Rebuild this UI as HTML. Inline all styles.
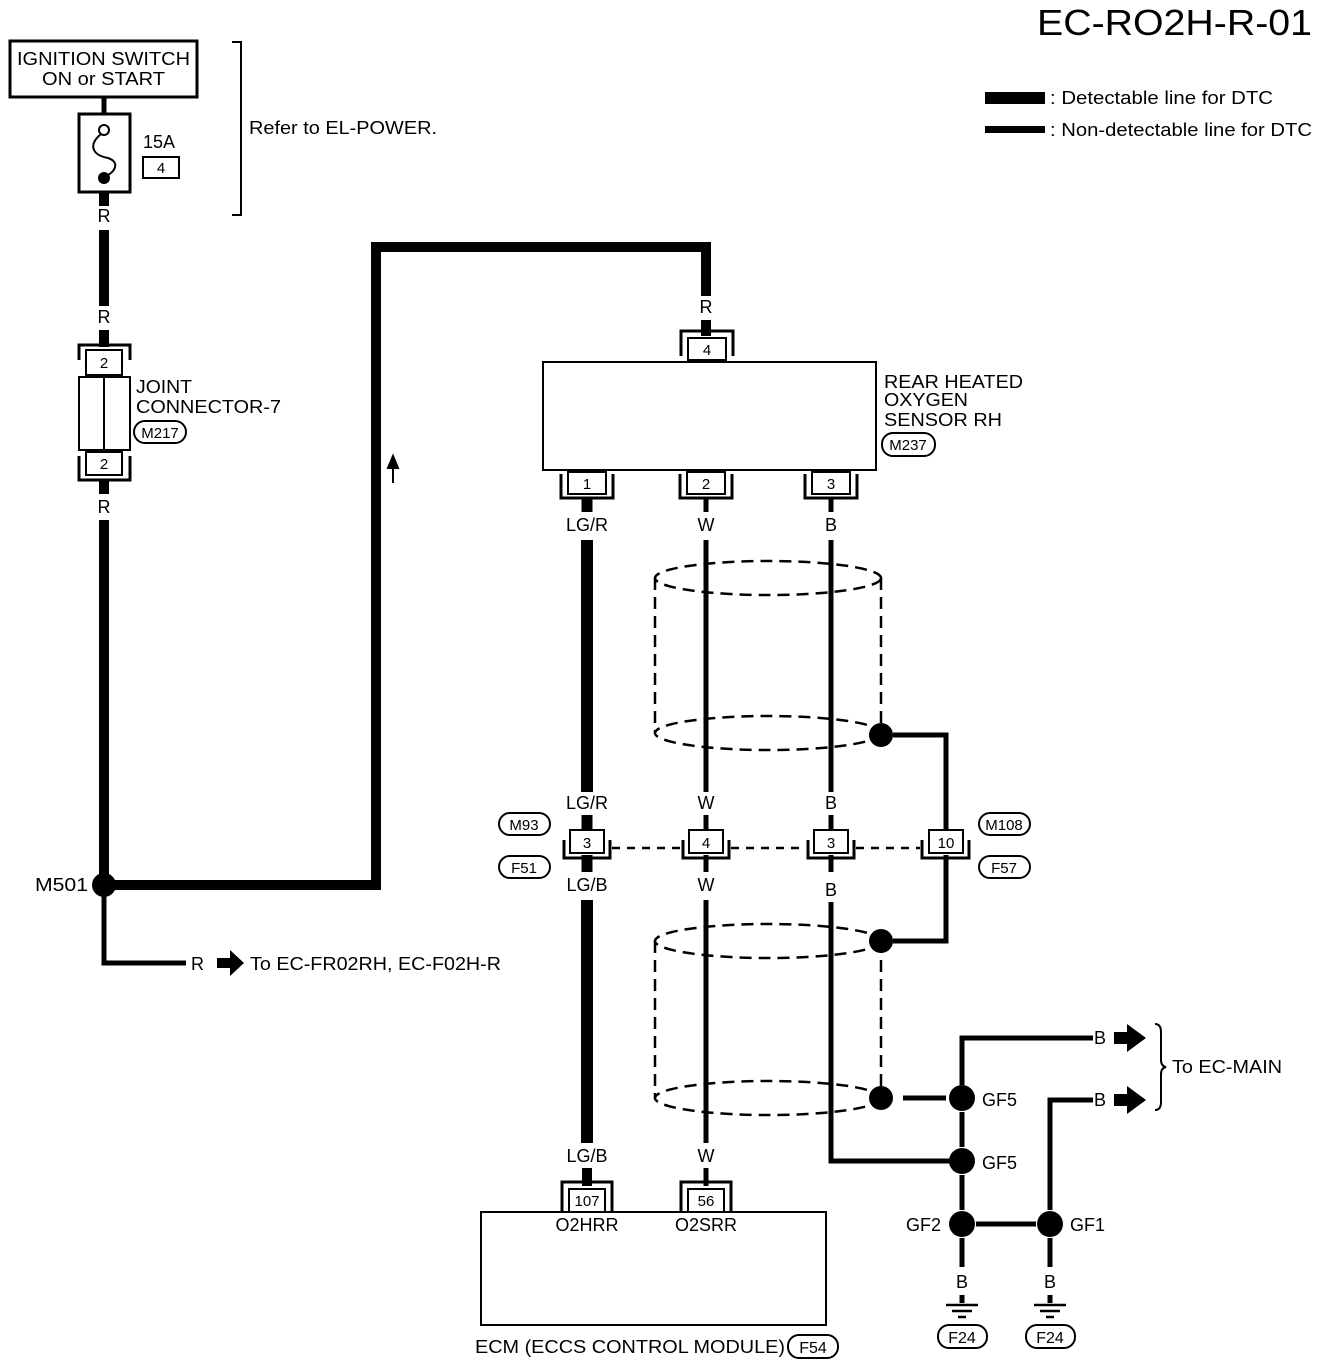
<!DOCTYPE html>
<html><head><meta charset="utf-8"><style>
html,body{margin:0;padding:0;background:#fff;}
svg{display:block;}
text{font-family:"Liberation Sans",Arial,sans-serif;font-size:18px;fill:#000;}
.c{text-anchor:middle;}
</style></head><body>
<svg width="1328" height="1366" viewBox="0 0 1328 1366" xmlns="http://www.w3.org/2000/svg">
<text x="1037" y="35" style="font-size:36px" textLength="275" lengthAdjust="spacingAndGlyphs">EC-RO2H-R-01</text>
<rect x="985" y="92" width="60" height="12" fill="#000"/>
<text x="1050" y="104" textLength="223" lengthAdjust="spacingAndGlyphs">: Detectable line for DTC</text>
<rect x="985" y="126" width="60" height="7" fill="#000"/>
<text x="1050" y="136" textLength="262" lengthAdjust="spacingAndGlyphs">: Non-detectable line for DTC</text>

<!-- ignition -->
<rect x="10" y="41" width="187" height="56" fill="none" stroke="#000" stroke-width="3"/>
<text x="17" y="65" textLength="173" lengthAdjust="spacingAndGlyphs">IGNITION SWITCH</text>
<text x="42" y="85" textLength="123" lengthAdjust="spacingAndGlyphs">ON or START</text>
<line x1="104" y1="97" x2="104" y2="114" stroke="#000" stroke-width="5"/>
<rect x="79" y="114" width="51" height="78" fill="none" stroke="#000" stroke-width="3"/>
<circle cx="104" cy="130" r="5" fill="#fff" stroke="#000" stroke-width="2"/>
<path d="M101 134 C88 145,92 155,108 158 C120 162,116 172,104 177" fill="none" stroke="#000" stroke-width="2"/>
<circle cx="104" cy="178" r="6" fill="#000"/>
<text x="143" y="148">15A</text>
<rect x="143" y="157" width="36" height="21" fill="none" stroke="#000" stroke-width="2"/>
<text class="c" x="161" y="173" style="font-size:15px">4</text>
<path d="M232 42 H241 V215 H232" fill="none" stroke="#000" stroke-width="2"/>
<text x="249" y="134" textLength="188" lengthAdjust="spacingAndGlyphs">Refer to EL-POWER.</text>

<g stroke="#000" stroke-width="10" fill="none">
<line x1="104" y1="192" x2="104" y2="206"/>
<line x1="104" y1="230" x2="104" y2="306"/>
<line x1="104" y1="330" x2="104" y2="347"/>
<line x1="104" y1="480" x2="104" y2="494"/>
<line x1="104" y1="520" x2="104" y2="885"/>
<path d="M104 885 H376 V247 H706 V296"/>
<line x1="706" y1="320" x2="706" y2="336"/>
</g>
<text class="c" x="104" y="222">R</text>
<text class="c" x="104" y="323">R</text>
<text class="c" x="104" y="513">R</text>
<!-- joint connector -->
<path d="M79 360 V345 H130 V360" fill="none" stroke="#000" stroke-width="3"/>
<rect x="86" y="350" width="36" height="25" fill="#fff" stroke="#000" stroke-width="2"/>
<text class="c" x="104" y="368" style="font-size:15px">2</text>
<rect x="79" y="377" width="51" height="73" fill="none" stroke="#000" stroke-width="2"/>
<line x1="104" y1="377" x2="104" y2="450" stroke="#000" stroke-width="2"/>
<path d="M79 456 V480 H130 V456" fill="none" stroke="#000" stroke-width="3"/>
<rect x="86" y="452" width="36" height="23" fill="#fff" stroke="#000" stroke-width="2"/>
<text class="c" x="104" y="469" style="font-size:15px">2</text>
<text x="136" y="393" textLength="56" lengthAdjust="spacingAndGlyphs">JOINT</text>
<text x="136" y="413" textLength="145" lengthAdjust="spacingAndGlyphs">CONNECTOR-7</text>
<rect x="134" y="421" width="52" height="22" rx="11" fill="none" stroke="#000" stroke-width="2"/>
<text class="c" x="160" y="438" style="font-size:15px">M217</text>
<path d="M393 483 V462 M388 468 L393 456 L398 468 Z" stroke="#000" stroke-width="2" fill="#000"/>

<!-- M501 -->
<circle cx="104" cy="885" r="12" fill="#000"/>
<text x="35" y="891" textLength="53" lengthAdjust="spacingAndGlyphs">M501</text>
<path d="M104 895 V963 H186" fill="none" stroke="#000" stroke-width="5"/>
<text x="191" y="970">R</text>
<path d="M217 958 H230 V950 L244 963 L230 976 V968 H217 Z" fill="#000"/>
<text x="250" y="970" textLength="251" lengthAdjust="spacingAndGlyphs">To EC-FR02RH, EC-F02H-R</text>

<!-- sensor -->
<text class="c" x="706" y="313">R</text>
<path d="M681 356 V331 H733 V356" fill="none" stroke="#000" stroke-width="3"/>
<rect x="688" y="338" width="38" height="22" fill="#fff" stroke="#000" stroke-width="2"/>
<text class="c" x="707" y="355" style="font-size:15px">4</text>
<rect x="543" y="362" width="333" height="108" fill="#fff" stroke="#000" stroke-width="2"/>
<text x="884" y="388" textLength="139" lengthAdjust="spacingAndGlyphs">REAR HEATED</text>
<text x="884" y="406" textLength="84" lengthAdjust="spacingAndGlyphs">OXYGEN</text>
<text x="884" y="426" textLength="118" lengthAdjust="spacingAndGlyphs">SENSOR RH</text>
<rect x="882" y="433" width="53" height="23" rx="11" fill="none" stroke="#000" stroke-width="2"/>
<text class="c" x="908" y="450" style="font-size:15px">M237</text>
<g stroke="#000" fill="none">
<path d="M561 474 V498 H613 V474" stroke-width="3"/>
<path d="M680 474 V498 H732 V474" stroke-width="3"/>
<path d="M805 474 V498 H857 V474" stroke-width="3"/>
</g>
<g fill="#fff" stroke="#000" stroke-width="2">
<rect x="568" y="472" width="38" height="22"/>
<rect x="687" y="472" width="38" height="22"/>
<rect x="812" y="472" width="38" height="22"/>
</g>
<text class="c" x="587" y="489" style="font-size:15px">1</text>
<text class="c" x="706" y="489" style="font-size:15px">2</text>
<text class="c" x="831" y="489" style="font-size:15px">3</text>
<text class="c" x="587" y="531">LG/R</text>
<text class="c" x="706" y="531">W</text>
<text class="c" x="831" y="531">B</text>

<g stroke="#000" fill="none">
<line x1="587" y1="498" x2="587" y2="512" stroke-width="11"/>
<line x1="587" y1="540" x2="587" y2="792" stroke-width="12"/>
<line x1="706" y1="498" x2="706" y2="512" stroke-width="5"/>
<line x1="706" y1="540" x2="706" y2="792" stroke-width="5"/>
<line x1="831" y1="498" x2="831" y2="512" stroke-width="5"/>
<line x1="831" y1="540" x2="831" y2="792" stroke-width="5"/>
<line x1="587" y1="815" x2="587" y2="830" stroke-width="11"/>
<line x1="706" y1="815" x2="706" y2="830" stroke-width="5"/>
<line x1="831" y1="815" x2="831" y2="830" stroke-width="5"/>
<line x1="587" y1="855" x2="587" y2="872" stroke-width="11"/>
<line x1="706" y1="855" x2="706" y2="872" stroke-width="5"/>
<line x1="831" y1="855" x2="831" y2="872" stroke-width="5"/>
<line x1="587" y1="900" x2="587" y2="1143" stroke-width="12"/>
<line x1="706" y1="900" x2="706" y2="1143" stroke-width="5"/>
<path d="M831 902 V1161 H962" stroke-width="5"/>
<path d="M893 735 H946 V830 M946 855 V941 H893" stroke-width="5"/>
<g stroke-width="2.5" stroke-dasharray="12,7">
<ellipse cx="768" cy="578" rx="113" ry="17"/>
<line x1="655" y1="578" x2="655" y2="733"/>
<line x1="881" y1="578" x2="881" y2="733"/>
<ellipse cx="768" cy="733" rx="113" ry="17"/>
<ellipse cx="768" cy="941" rx="113" ry="17"/>
<line x1="655" y1="941" x2="655" y2="1098"/>
<line x1="881" y1="941" x2="881" y2="1098"/>
<ellipse cx="768" cy="1098" rx="113" ry="17"/>
</g>
<path d="M612 848 H682 M731 848 H806 M856 848 H920" stroke-width="2.5" stroke-dasharray="8,7"/>
</g>
<circle cx="881" cy="735" r="12" fill="#000"/>
<circle cx="881" cy="941" r="12" fill="#000"/>
<circle cx="881" cy="1098" r="12" fill="#000"/>

<text class="c" x="587" y="809">LG/R</text>
<text class="c" x="706" y="809">W</text>
<text class="c" x="831" y="809">B</text>
<text class="c" x="587" y="891">LG/B</text>
<text class="c" x="706" y="891">W</text>
<text class="c" x="831" y="896">B</text>
<g stroke="#000" fill="none" stroke-width="3">
<path d="M564 840 V858 H610 V840"/>
<path d="M683 840 V858 H729 V840"/>
<path d="M808 840 V858 H854 V840"/>
<path d="M922 840 V858 H969 V840"/>
</g>
<g fill="#fff" stroke="#000" stroke-width="2">
<rect x="570" y="830" width="34" height="23"/>
<rect x="689" y="830" width="34" height="23"/>
<rect x="814" y="830" width="34" height="23"/>
<rect x="929" y="830" width="34" height="23"/>
</g>
<text class="c" x="587" y="848" style="font-size:15px">3</text>
<text class="c" x="706" y="848" style="font-size:15px">4</text>
<text class="c" x="831" y="848" style="font-size:15px">3</text>
<text class="c" x="946" y="848" style="font-size:15px">10</text>
<g fill="none" stroke="#000" stroke-width="2">
<rect x="499" y="813" width="51" height="22" rx="11"/>
<rect x="499" y="856" width="51" height="22" rx="11"/>
<rect x="979" y="813" width="51" height="22" rx="11"/>
<rect x="979" y="856" width="51" height="22" rx="11"/>
</g>
<text class="c" x="524" y="830" style="font-size:15px">M93</text>
<text class="c" x="524" y="873" style="font-size:15px">F51</text>
<text class="c" x="1004" y="830" style="font-size:15px">M108</text>
<text class="c" x="1004" y="873" style="font-size:15px">F57</text>

<!-- grounds -->
<g stroke="#000" fill="none" stroke-width="5">
<line x1="903" y1="1098" x2="946" y2="1098"/>
<path d="M962 1085 V1038 H1093"/>
<path d="M1050 1210 V1100 H1093"/>
<line x1="962" y1="1112" x2="962" y2="1147"/>
<line x1="962" y1="1175" x2="962" y2="1210"/>
<line x1="976" y1="1224" x2="1036" y2="1224"/>
<line x1="962" y1="1238" x2="962" y2="1267"/>
<line x1="1050" y1="1238" x2="1050" y2="1267"/>
<line x1="962" y1="1295" x2="962" y2="1303"/>
<line x1="1050" y1="1295" x2="1050" y2="1303"/>
</g>
<g stroke="#000" stroke-width="2.5">
<line x1="946" y1="1305" x2="978" y2="1305"/>
<line x1="952" y1="1311" x2="972" y2="1311"/>
<line x1="958" y1="1317" x2="966" y2="1317"/>
<line x1="1034" y1="1305" x2="1066" y2="1305"/>
<line x1="1040" y1="1311" x2="1060" y2="1311"/>
<line x1="1046" y1="1317" x2="1054" y2="1317"/>
</g>
<circle cx="962" cy="1098" r="13" fill="#000"/>
<circle cx="962" cy="1161" r="13" fill="#000"/>
<circle cx="962" cy="1224" r="13" fill="#000"/>
<circle cx="1050" cy="1224" r="13" fill="#000"/>
<text x="982" y="1106">GF5</text>
<text x="982" y="1169">GF5</text>
<text x="906" y="1231">GF2</text>
<text x="1070" y="1231">GF1</text>
<text x="1094" y="1044">B</text>
<text x="1094" y="1106">B</text>
<path d="M1114 1032 H1127 V1024 L1146 1038 L1127 1052 V1044 H1114 Z" fill="#000"/>
<path d="M1114 1094 H1127 V1086 L1146 1100 L1127 1114 V1106 H1114 Z" fill="#000"/>
<path d="M1155 1024 Q1161 1024 1161 1032 V1060 Q1161 1066 1166 1067 Q1161 1068 1161 1074 V1102 Q1161 1110 1155 1110" fill="none" stroke="#000" stroke-width="2"/>
<text x="1172" y="1073" textLength="110" lengthAdjust="spacingAndGlyphs">To EC-MAIN</text>
<text class="c" x="962" y="1288">B</text>
<text class="c" x="1050" y="1288">B</text>
<g fill="none" stroke="#000" stroke-width="2">
<rect x="938" y="1325" width="49" height="23" rx="11"/>
<rect x="1026" y="1325" width="49" height="23" rx="11"/>
<rect x="788" y="1335" width="50" height="23" rx="11"/>
</g>
<text class="c" x="962" y="1343" style="font-size:16px">F24</text>
<text class="c" x="1050" y="1343" style="font-size:16px">F24</text>
<text class="c" x="813" y="1353" style="font-size:16px">F54</text>

<!-- ECM -->
<text class="c" x="587" y="1162">LG/B</text>
<text class="c" x="706" y="1162">W</text>
<line x1="587" y1="1168" x2="587" y2="1186" stroke="#000" stroke-width="10"/>
<line x1="706" y1="1168" x2="706" y2="1186" stroke="#000" stroke-width="5"/>
<path d="M562 1211 V1182 H612 V1211 M681 1211 V1182 H731 V1211" fill="none" stroke="#000" stroke-width="3"/>
<rect x="569" y="1189" width="36" height="23" fill="#fff" stroke="#000" stroke-width="2"/>
<rect x="688" y="1189" width="36" height="23" fill="#fff" stroke="#000" stroke-width="2"/>
<text class="c" x="587" y="1206" style="font-size:15px">107</text>
<text class="c" x="706" y="1206" style="font-size:15px">56</text>
<rect x="481" y="1212" width="345" height="113" fill="none" stroke="#000" stroke-width="2"/>
<text class="c" x="587" y="1231">O2HRR</text>
<text class="c" x="706" y="1231">O2SRR</text>
<text x="475" y="1353" textLength="310" lengthAdjust="spacingAndGlyphs">ECM (ECCS CONTROL MODULE)</text>
</svg>
</body></html>
